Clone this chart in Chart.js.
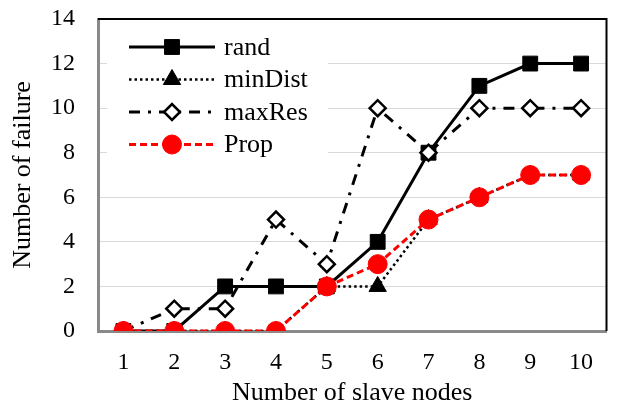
<!DOCTYPE html>
<html>
<head>
<meta charset="utf-8">
<script src="https://cdn.jsdelivr.net/npm/chart.js@4.4.0/dist/chart.umd.min.js"></script>
<style>
html,body{margin:0;padding:0;background:#fff;}
#wrap{width:618px;height:409px;}
</style>
</head>
<body>
<div id="wrap"><canvas id="myChart" width="618" height="409"></canvas></div>
<script>
'use strict';
// data
var nodes=['1','2','3','4','5','6','7','8','9','10'];
var randFail=[0,0,2,2,2,4,8,11,12,12];
var minDistFail=[0,0,0,0,2,2,5,6,7,7];
var maxResFail=[0,1,1,5,3,10,8,10,10,10];
var propFail=[0,0,0,0,2,3,5,6,7,7];
var yTicks=[0,2,4,6,8,10,12,14];
var seriesNames=['rand','minDist','maxRes','Prop'];

var serif='"Liberation Serif", "Times New Roman", serif';

// top + right frame of the plot area
var frameLines={
    id:'frameLines',
    beforeDatasetsDraw:function(chart){
        var a=chart.chartArea;
        var ctx=chart.ctx;
        ctx.save();
        ctx.strokeStyle='#000';
        ctx.lineWidth=2;
        ctx.beginPath();
        ctx.moveTo(a.left,a.top);
        ctx.lineTo(a.right,a.top);
        ctx.lineTo(a.right,a.bottom);
        ctx.stroke();
        ctx.restore();
    }
};

// legend drawn inside the plot, line + marker like the original
var legendInside={
    id:'legendInside',
    afterDraw:function(chart){
        var a=chart.chartArea;
        var ctx=chart.ctx;
        var ds=chart.data.datasets;
        ctx.save();
        ctx.fillStyle='#fff';
        ctx.fillRect(a.left+9,a.top+6,221,142);
        for (let i = 0; i < ds.length; i++) {
            var y=a.top+28+i*32.5;
            ctx.beginPath();
            ctx.setLineDash(ds[i].borderDash||[]);
            ctx.lineWidth=ds[i].borderWidth;
            ctx.strokeStyle=ds[i].borderColor;
            ctx.moveTo(a.left+31,y);
            ctx.lineTo(a.left+117,y);
            ctx.stroke();
            ctx.setLineDash([]);
            ctx.fillStyle=ds[i].pointBackgroundColor;
            ctx.strokeStyle=ds[i].pointBorderColor;
            ctx.lineWidth=ds[i].pointBorderWidth;
            Chart.helpers.drawPoint(ctx,{pointStyle:ds[i].pointStyle,radius:ds[i].pointRadius,rotation:0,borderWidth:ds[i].pointBorderWidth},a.left+74,y);
            ctx.fillStyle='#000';
            ctx.font='26px '+serif;
            ctx.textBaseline='middle';
            ctx.textAlign='left';
            ctx.fillText(ds[i].label,a.left+126,y+1);
        }
        ctx.restore();
    }
};

var ctx = document.getElementById('myChart').getContext('2d');
var chart = new Chart(ctx, {
    type: 'line',
    data: {
        labels: nodes,
        datasets: [{
            label: seriesNames[0],
            data: randFail,
            borderColor: '#000',
            borderWidth: 3,
            pointStyle: 'rect',
            pointRadius: 10.5,
            pointBackgroundColor: '#000',
            pointBorderColor: '#000',
            pointBorderWidth: 1,
            order: 3
        },{
            label: seriesNames[1],
            data: minDistFail,
            borderColor: '#000',
            borderWidth: 2.5,
            borderDash: [2.5,3],
            pointStyle: 'triangle',
            pointRadius: 10,
            pointBackgroundColor: '#000',
            pointBorderColor: '#000',
            pointBorderWidth: 1,
            order: 2
        },{
            label: seriesNames[2],
            data: maxResFail,
            borderColor: '#000',
            borderWidth: 3,
            borderDash: [11,8,3,8],
            pointStyle: 'rectRot',
            pointRadius: 8,
            pointBackgroundColor: '#fff',
            pointBorderColor: '#000',
            pointBorderWidth: 2.5,
            order: 1
        },{
            label: seriesNames[3],
            data: propFail,
            borderColor: '#ff0000',
            borderWidth: 3,
            borderDash: [7,4],
            pointStyle: 'circle',
            pointRadius: 9.5,
            pointBackgroundColor: '#ff0000',
            pointBorderColor: '#ff0000',
            pointBorderWidth: 1,
            order: 0
        }]
    },
    options: {
        responsive: false,
        animation: false,
        events: [],
        layout: { padding: { top: 19, right: 7, left: 0, bottom: 0 } },
        elements: { line: { tension: 0, fill: false } },
        plugins: { legend: { display: false }, tooltip: { enabled: false } },
        scales: {
            x: {
                offset: true,
                grid: { display: false, drawTicks: false },
                border: { display: true, color: '#898989', width: 3 },
                ticks: { color: '#000', font: { family: serif, size: 24 }, padding: 17, maxRotation: 0 },
                title: { display: true, text: 'Number of slave nodes', color: '#000', font: { family: serif, size: 26 }, padding: { top: 0, bottom: 0 } },
                afterFit: function(scale){
                    scale.height = 78;
                    scale.paddingLeft = 0;
                    scale.paddingRight = 0;
                }
            },
            y: {
                min: yTicks[0],
                max: yTicks[yTicks.length-1],
                grid: { color: '#d9d9d9', lineWidth: 1, drawTicks: false },
                border: { display: true, color: '#898989', width: 3 },
                ticks: { stepSize: yTicks[1]-yTicks[0], color: '#000', font: { family: serif, size: 24 }, padding: 23 },
                title: { display: true, text: 'Number of failure', color: '#000', font: { family: serif, size: 26 }, padding: { top: 8, bottom: 0 } },
                afterFit: function(scale){
                    scale.width = 98;
                    scale.paddingTop = 0;
                    scale.paddingBottom = 0;
                }
            }
        }
    },
    plugins: [frameLines, legendInside]
});
</script>
</body>
</html>
